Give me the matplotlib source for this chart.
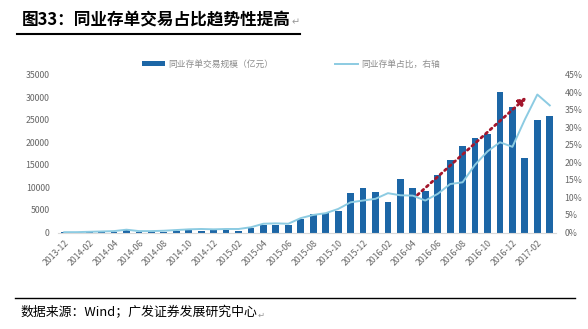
import numpy as np
import pandas as pd
import matplotlib
matplotlib.use("Agg")
import matplotlib.pyplot as plt
from matplotlib.lines import Line2D

plt.rcParams['font.family'] = ['Noto Sans CJK SC', 'DejaVu Sans']

# 月份 2013-12 ~ 2017-03
months = [p.strftime('%Y-%m') for p in pd.period_range('2013-12', '2017-03', freq='M')]
volume = [30, 40, 60, 80, 120, 500, 80, 60, 120, 350,
          450, 420, 480, 480, 330, 950, 1600, 1750, 1750, 3050,
          4150, 4300, 4750, 8650, 9950, 8950, 6750, 11950, 9850, 9100,
          12650, 16150, 19150, 20950, 21850, 31200, 27700, 16600, 24950, 25850]
share = [0.1, 0.1, 0.2, 0.3, 0.4, 0.8, 0.4, 0.4, 0.5, 0.7,
         0.9, 1.0, 0.9, 1.0, 1.0, 1.5, 2.5, 2.6, 2.5, 4.1,
         5.0, 5.5, 6.7, 8.6, 9.1, 9.6, 11.2, 10.6, 10.5, 9.1,
         11.0, 13.8, 14.3, 19.3, 23.1, 25.7, 24.4, 32.2, 39.3, 36.2]
title = "图33：同业存单交易占比趋势性提高"
source = "数据来源：Wind；广发证券发展研究中心"
bar_label = "同业存单交易规模（亿元）"
line_label = "同业存单占比，右轴"

W, H = 588, 329
fig = plt.figure(figsize=(W / 100, H / 100), dpi=100)
ax = fig.add_axes([58 / W, 1 - 232.5 / H, (556 - 58) / W, (232.5 - 74.5) / H])
ax2 = ax.twinx()

x = np.arange(len(months))
bars = ax.bar(x, volume, width=0.55, color='#1c66a6', zorder=2)
ln, = ax2.plot(x, share, color='#8ccbe2', lw=1.4, zorder=3)

ax.set_xlim(-0.5, len(months) - 0.5)
ax.set_ylim(0, 35000)
ax.set_yticks(np.arange(0, 35001, 5000))
ax2.set_ylim(0, 45)
ax2.set_yticks(np.arange(0, 46, 5))
ax2.set_yticklabels([f"{v}%" for v in range(0, 46, 5)])

ax.set_xticks(x[::2])
ax.set_xticklabels(months[::2], rotation=45, ha='right', rotation_mode='anchor')

grey = '#666666'
for a in (ax, ax2):
    for s in a.spines.values():
        s.set_visible(False)
    a.tick_params(length=0, labelsize=6.3, labelcolor=grey)
ax.tick_params(axis='x', pad=4)
ax.tick_params(axis='y', pad=6)
ax2.tick_params(axis='y', pad=6)
ax.spines['bottom'].set_visible(True)
ax.spines['bottom'].set_color('#d9d9d9')
ax.spines['bottom'].set_linewidth(0.8)

# 趋势箭头
ax.annotate('', xy=(37.3, 30400), xytext=(28.2, 7900),
            arrowprops=dict(arrowstyle='-|>', color='#a3162c', lw=2,
                            linestyle=(0, (0.8, 1.4)), mutation_scale=11),
            zorder=5)

fig.legend([bars, ln], [bar_label, line_label], loc='center',
           bbox_to_anchor=(291 / W, 1 - 64 / H), ncol=2, frameon=False,
           fontsize=6.3, labelcolor='#8c8c8c', handlelength=2.6,
           handleheight=0.6, columnspacing=7, handletextpad=0.4)

t1 = fig.text(22 / W, 1 - 20 / H, title, fontsize=12, fontweight='bold',
              va='center', ha='left', color='black')
t2 = fig.text(20 / W, 1 - 313 / H, source, fontsize=9.3, va='center',
              ha='left', color='black')

# 段落标记 ↵ (小号灰色)
fig.canvas.draw()
r = fig.canvas.get_renderer()
for t, fs in ((t1, 7), (t2, 6)):
    bb = t.get_window_extent(r)
    fig.text(bb.x1 / (W) + 1 / W, (bb.y0 + bb.y1) / 2 / H - 2 / H, "↵",
             fontsize=fs, color='#999999', va='center', ha='left',
             family='DejaVu Sans')

fig.add_artist(Line2D([17 / W, 300 / W], [1 - 34 / H, 1 - 34 / H],
                      color='black', lw=1.5, transform=fig.transFigure))
fig.add_artist(Line2D([15 / W, 575 / W], [1 - 298 / H, 1 - 298 / H],
                      color='black', lw=1, transform=fig.transFigure))

fig.savefig('out.png', dpi=100)
